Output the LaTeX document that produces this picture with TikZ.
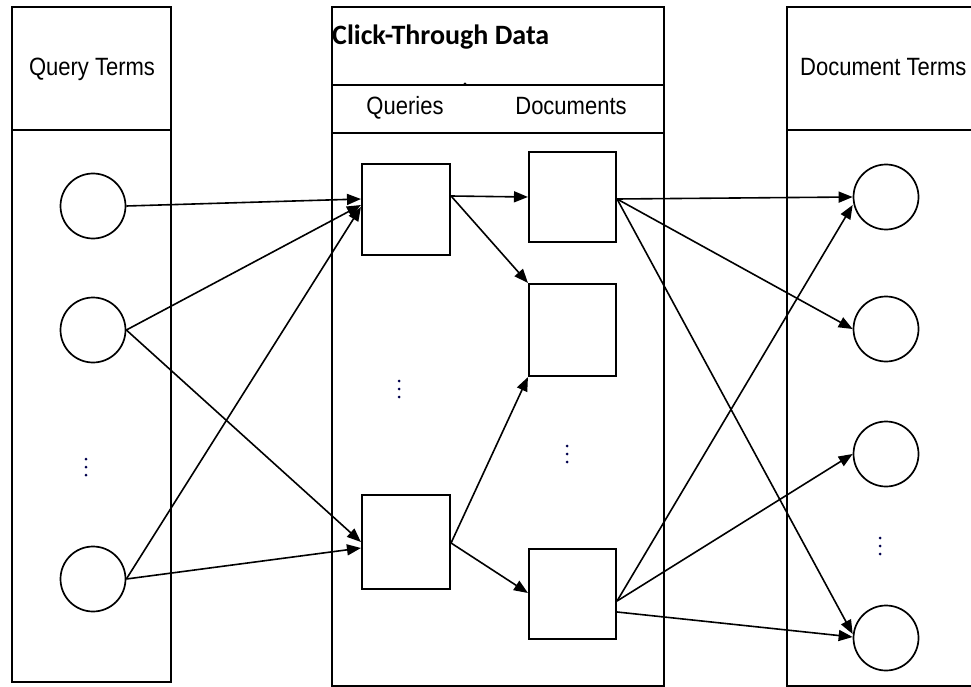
\documentclass[tikz,border=0pt]{standalone}
\usepackage{fontspec}
\setmainfont{Liberation Sans}
\newfontfamily\labfont[FakeStretch=0.88]{Liberation Sans}
\newfontfamily\headfont{Carlito}
\usetikzlibrary{arrows.meta,calc}

\begin{document}
\begin{tikzpicture}[x=1pt,y=-1pt,
  panel/.style={draw,line width=2.1pt},
  term/.style={draw,circle,line width=1.7pt,minimum size=65pt,inner sep=0pt},
  rec/.style={draw,line width=2.1pt,minimum width=88pt,minimum height=91pt,inner sep=0pt},
  link/.style={line width=1.6pt,-{Triangle[length=14pt,width=11pt]}},
  lab/.style={font=\labfont\fontsize{25}{28}\selectfont,inner sep=0pt,anchor=base},
  dot/.style={fill=black!70!blue}]

\useasboundingbox (0,0) rectangle (971,687);
\clip (0,0) rectangle (971,687);

% panels
\draw[panel] (12,7) rectangle (171,682);
\draw[panel] (12,130) -- (171,130);
\draw[panel] (332,7) rectangle (664,686);
\draw[panel] (332,85) -- (664,85);
\draw[panel] (332,133) -- (664,133);
\draw[panel] (787,7) rectangle (990,686);
\draw[panel] (787,130) -- (990,130);
\fill (465,84) circle (1.6pt);

% headings
\node[lab] (hq) at (92,76) {Query Terms};
\node[inner sep=0pt,anchor=base west,font=\headfont\bfseries\fontsize{28}{32}\selectfont] (hc) at (332,45) {Click-Through Data};
\node[lab] (hqs) at (405,115) {Queries};
\node[lab] (hds) at (571,115) {Documents};
\node[lab,anchor=base west] (hd) at (800,76) {Document Terms};

% vertical ellipses between repeated items
\foreach \x/\y in {86/467, 399/389, 567/454, 880/546}
  \foreach \k in {-8,0,8}
    \fill[dot] (\x,\y+\k) circle (1.5pt);

% query terms
\node[term] (l1) at (93,206) {};
\node[term] (l2) at (93,330) {};
\node[term] (l3) at (93,579) {};

% queries
\node[rec] (q1) at (406,209.5) {};
\node[rec,minimum height=94pt] (q2) at (406,542) {};

% documents
\node[rec,minimum width=87pt,minimum height=90pt] (d1) at (572.5,197) {};
\node[rec,minimum width=87pt,minimum height=92pt] (d2) at (572.5,330) {};
\node[rec,minimum width=87pt,minimum height=90pt] (d3) at (572.5,594) {};

% document terms
\node[term] (r1) at (886,197) {};
\node[term] (r2) at (886,329) {};
\node[term] (r3) at (886,454) {};
\node[term] (r4) at (886,638) {};

% query terms -> queries
\draw[link] (l1.east) -- ($(q1.west)+(0,-10.5)$);
\draw[link] (l2.east) -- ($(q1.west)+(0,-4.5)$);
\draw[link] (l2.east) -- ($(q2.west)+(0,0)$);
\draw[link] (l3.east) -- ($(q1.west)+(0,-2.5)$);
\draw[link] (l3.east) -- ($(q2.west)+(0,6)$);

% queries -> documents
\draw[link] ($(q1.east)+(0,-13.5)$) -- (d1.west);
\draw[link] ($(q1.east)+(0,-13.5)$) -- (d2.north west);
\draw[link] ($(q2.east)+(0,1)$) -- (d2.south west);
\draw[link] ($(q2.east)+(0,1)$) -- ($(d3.west)+(0,-1)$);

% documents -> document terms
\draw[link] ($(d1.east)+(0,2)$) -- (r1.west);
\draw[link] ($(d1.east)+(0,2)$) -- (r2.west);
\draw[link] ($(d1.east)+(0,2)$) -- ($(r4.west)+(0,-4)$);
\draw[link] ($(d3.east)+(0,7)$) -- ($(r1.west)+(0,8)$);
\draw[link] ($(d3.east)+(0,7)$) -- (r3.west);
\draw[link] ($(d3.east)+(0,18)$) -- ($(r4.west)+(0,-1)$);
\end{tikzpicture}
\end{document}
